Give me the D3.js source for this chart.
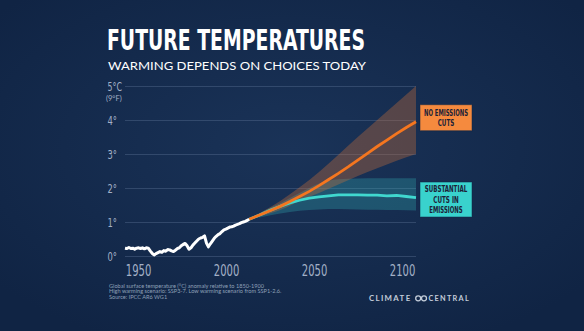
<!DOCTYPE html>
<html>
<head>
<meta charset="utf-8">
<script src="https://cdn.jsdelivr.net/npm/d3@7"></script>
<style>
  html, body { margin: 0; padding: 0; background: #132a4c; }
  svg { display: block; }
  .cond { font-family: "Liberation Sans Narrow", "DejaVu Sans Condensed", sans-serif; }
</style>
</head>
<body>
<div id="container"></div>
<script>
// observed anomaly 1950-2014 (°C vs 1850-1900)
var histYears = d3.range(1950, 2015);
var histTemps = [
  0.23, 0.22, 0.25, 0.22, 0.23, 0.20, 0.23, 0.24, 0.22, 0.24,
  0.21, 0.24, 0.23, 0.15, 0.08, 0.03, 0.07, 0.10, 0.13, 0.11,
  0.16, 0.14, 0.19, 0.18, 0.15, 0.13, 0.17, 0.22, 0.24, 0.30,
  0.34, 0.37, 0.30, 0.20, 0.24, 0.32, 0.38, 0.44, 0.50, 0.53,
  0.55, 0.59, 0.38, 0.27, 0.36, 0.44, 0.52, 0.58, 0.63, 0.66,
  0.72, 0.77, 0.79, 0.82, 0.85, 0.86, 0.88, 0.91, 0.93, 0.95,
  0.98, 1.00, 1.02, 1.05, 1.08
];

// scenario means
var projYears = [2014, 2020, 2025, 2030, 2035, 2040, 2045, 2050, 2055, 2060,
                 2065, 2070, 2075, 2080, 2085, 2090, 2095, 2100];
var highMean = [1.08, 1.22, 1.34, 1.46, 1.60, 1.75, 1.90, 2.07, 2.25, 2.43,
                2.62, 2.82, 3.02, 3.22, 3.41, 3.60, 3.78, 3.95];
var lowMean  = [1.08, 1.22, 1.35, 1.46, 1.56, 1.64, 1.70, 1.74, 1.77, 1.80,
                1.80, 1.80, 1.79, 1.79, 1.77, 1.78, 1.75, 1.72];

// likely ranges
var bandYears = [2014, 2020, 2030, 2040, 2050, 2060, 2070, 2080, 2090, 2100];
var highUpper = [1.08, 1.28, 1.62, 2.02, 2.47, 2.98, 3.50, 4.00, 4.50, 5.00];
var highLower = [1.08, 1.17, 1.35, 1.62, 1.85, 2.10, 2.35, 2.58, 2.80, 3.00];
var lowUpper  = [1.08, 1.28, 1.55, 1.85, 2.13, 2.26, 2.28, 2.29, 2.29, 2.29];
var lowLower  = [1.08, 1.14, 1.25, 1.33, 1.37, 1.38, 1.37, 1.36, 1.35, 1.34];

var yTicks = [0, 1, 2, 3, 4, 5];
var xTicks = [1950, 2000, 2050, 2100];

var W = 584, H = 331;

var svg = d3.select("#container")
  .append("svg")
  .attr("width", W)
  .attr("height", H);

var defs = svg.append("defs");
var bg = defs.append("radialGradient")
  .attr("id", "bg")
  .attr("cx", "50%").attr("cy", "45%").attr("r", "65%");
bg.append("stop").attr("offset", "0%").attr("stop-color", "#1a3358");
bg.append("stop").attr("offset", "100%").attr("stop-color", "#102444");

svg.append("rect")
  .attr("width", W).attr("height", H)
  .attr("fill", "url(#bg)");

var x = d3.scaleLinear().domain([1950, 2100]).range([125, 416]);
var y = d3.scaleLinear().domain([0, 5]).range([256, 86]);

// gridlines
svg.append("g")
  .attr("transform", "translate(125,0)")
  .call(d3.axisRight(y).tickValues(yTicks).tickSize(291).tickFormat(""))
  .call(function(g) { g.select(".domain").remove(); })
  .selectAll("line")
    .attr("stroke", "#5c7396")
    .attr("stroke-opacity", 0.4);

// y labels (squeezed to a narrow face)
var yLab = svg.append("g").attr("class", "cond");
yLab.selectAll("text")
  .data(yTicks)
  .enter().append("text")
    .attr("x", 107.5)
    .attr("y", function(d) { return y(d); })
    .attr("dy", "0.36em")
    .attr("fill", "#a3b0c6")
    .attr("font-size", 13)
    .attr("textLength", function(d) { return d == 5 ? 14.5 : 9.5; })
    .attr("lengthAdjust", "spacingAndGlyphs")
    .text(function(d) { return d == 5 ? d + "°C" : d + "°"; });
svg.append("text")
  .attr("x", 106)
  .attr("y", y(5) + 15)
  .attr("font-family", "Lato, sans-serif")
  .attr("font-size", 7.5)
  .attr("fill", "#a3b0c6")
  .text("(9°F)");

// x labels sit on their own even spacing
var xLabel = d3.scaleLinear().domain([1950, 2100]).range([138, 402]);
svg.append("g")
  .attr("transform", "translate(0,262)")
  .call(d3.axisBottom(xLabel).tickValues(xTicks).tickSize(0).tickFormat(d3.format("d")))
  .call(function(g) { g.select(".domain").remove(); })
  .selectAll("text")
    .attr("font-family", "Liberation Sans Narrow, DejaVu Sans Condensed, sans-serif")
    .attr("font-size", 16)
    .attr("fill", "#a3b0c6")
    .attr("textLength", 25.5)
    .attr("lengthAdjust", "spacingAndGlyphs");

// bands
function band(upper, lower) {
  return d3.area()
    .x(function(d, i) { return x(bandYears[i]); })
    .y0(function(d, i) { return y(lower[i]); })
    .y1(function(d, i) { return y(upper[i]); })
    .curve(d3.curveMonotoneX)(bandYears);
}
svg.append("path")
  .attr("d", band(lowUpper, lowLower))
  .attr("fill", "#35b9c0")
  .attr("fill-opacity", 0.28);
svg.append("path")
  .attr("d", band(highUpper, highLower))
  .attr("fill", "#c8703a")
  .attr("fill-opacity", 0.36);

var line = d3.line()
  .x(function(d) { return x(d[0]); })
  .y(function(d) { return y(d[1]); });

svg.append("path")
  .attr("d", line(d3.zip(projYears, lowMean)))
  .attr("fill", "none")
  .attr("stroke", "#40d8cf")
  .attr("stroke-width", 2.8);
svg.append("path")
  .attr("d", line(d3.zip(projYears, highMean)))
  .attr("fill", "none")
  .attr("stroke", "#f5761f")
  .attr("stroke-width", 2.8);
svg.append("path")
  .attr("d", line(d3.zip(histYears, histTemps)))
  .attr("fill", "none")
  .attr("stroke", "#ffffff")
  .attr("stroke-width", 3)
  .attr("stroke-linejoin", "round");

// scenario tags; each line has its own fitted width
function tag(top, h, fill, lines, widths) {
  var g = svg.append("g").attr("class", "cond");
  g.append("rect")
    .attr("x", 420).attr("y", top)
    .attr("width", 52).attr("height", h)
    .attr("fill", fill)
    .attr("stroke", "#0f2343").attr("stroke-opacity", 0.5);
  g.selectAll("text")
    .data(lines)
    .enter().append("text")
      .attr("x", 446)
      .attr("y", function(d, i) { return top + h / 2 + (i - (lines.length - 1) / 2) * 10.3; })
      .attr("dy", "0.36em")
      .attr("text-anchor", "middle")
      .attr("font-size", 8.8)
      .attr("font-weight", "bold")
      .attr("fill", "#1d2338")
      .attr("textLength", function(d, i) { return widths[i]; })
      .attr("lengthAdjust", "spacingAndGlyphs")
      .text(function(d) { return d; });
}
tag(y(highMean[highMean.length - 1]) - 17, 26, "#f58a3e",
    ["NO EMISSIONS", "CUTS"], [44, 16.5]);
tag(y(lowMean[lowMean.length - 1]) - 15.5, 35, "#39d2cd",
    ["SUBSTANTIAL", "CUTS IN", "EMISSIONS"], [42.5, 25.5, 33.5]);

// headings
svg.append("text")
  .attr("class", "cond")
  .attr("x", 107).attr("y", 50)
  .attr("font-size", 29)
  .attr("font-weight", "bold")
  .attr("fill", "#ffffff")
  .attr("textLength", 258)
  .attr("lengthAdjust", "spacingAndGlyphs")
  .text("FUTURE TEMPERATURES");
svg.append("text")
  .attr("x", 108).attr("y", 69.5)
  .attr("font-family", "Lato, sans-serif")
  .attr("font-size", 11.5)
  .attr("fill", "#ffffff")
  .attr("textLength", 258)
  .attr("lengthAdjust", "spacingAndGlyphs")
  .text("WARMING DEPENDS ON CHOICES TODAY");

// footnote
var notes = [
  "Global surface temperature (°C) anomaly relative to 1850-1900",
  "High warming scenario: SSP3-7. Low warming scenario from SSP1-2.6.",
  "Source: IPCC AR6 WG1"
];
svg.append("g")
  .selectAll("text")
  .data(notes)
  .enter().append("text")
    .attr("x", 109)
    .attr("y", function(d, i) { return 287.5 + i * 5.9; })
    .attr("font-family", "Lato, sans-serif")
    .attr("font-size", 5.6)
    .attr("fill", "#8fa0b8")
    .text(function(d) { return d; });

// logo
var logo = svg.append("g")
  .attr("font-family", "Lato, sans-serif")
  .attr("font-weight", "bold")
  .attr("font-size", 7)
  .attr("fill", "#c3ccd9");
logo.append("text")
  .attr("x", 369).attr("y", 300.8)
  .attr("textLength", 42.5).attr("lengthAdjust", "spacingAndGlyphs")
  .attr("letter-spacing", 1.2)
  .text("CLIMATE");
logo.append("text")
  .attr("x", 428.5).attr("y", 300.8)
  .attr("textLength", 41.5).attr("lengthAdjust", "spacingAndGlyphs")
  .attr("letter-spacing", 1.2)
  .text("CENTRAL");
logo.selectAll("circle")
  .data([418.2, 424.0])
  .enter().append("circle")
    .attr("cx", function(d) { return d; })
    .attr("cy", 298.3)
    .attr("r", 2.5)
    .attr("fill", "none")
    .attr("stroke", "#c3ccd9")
    .attr("stroke-width", 1.3);
</script>
</body>
</html>
